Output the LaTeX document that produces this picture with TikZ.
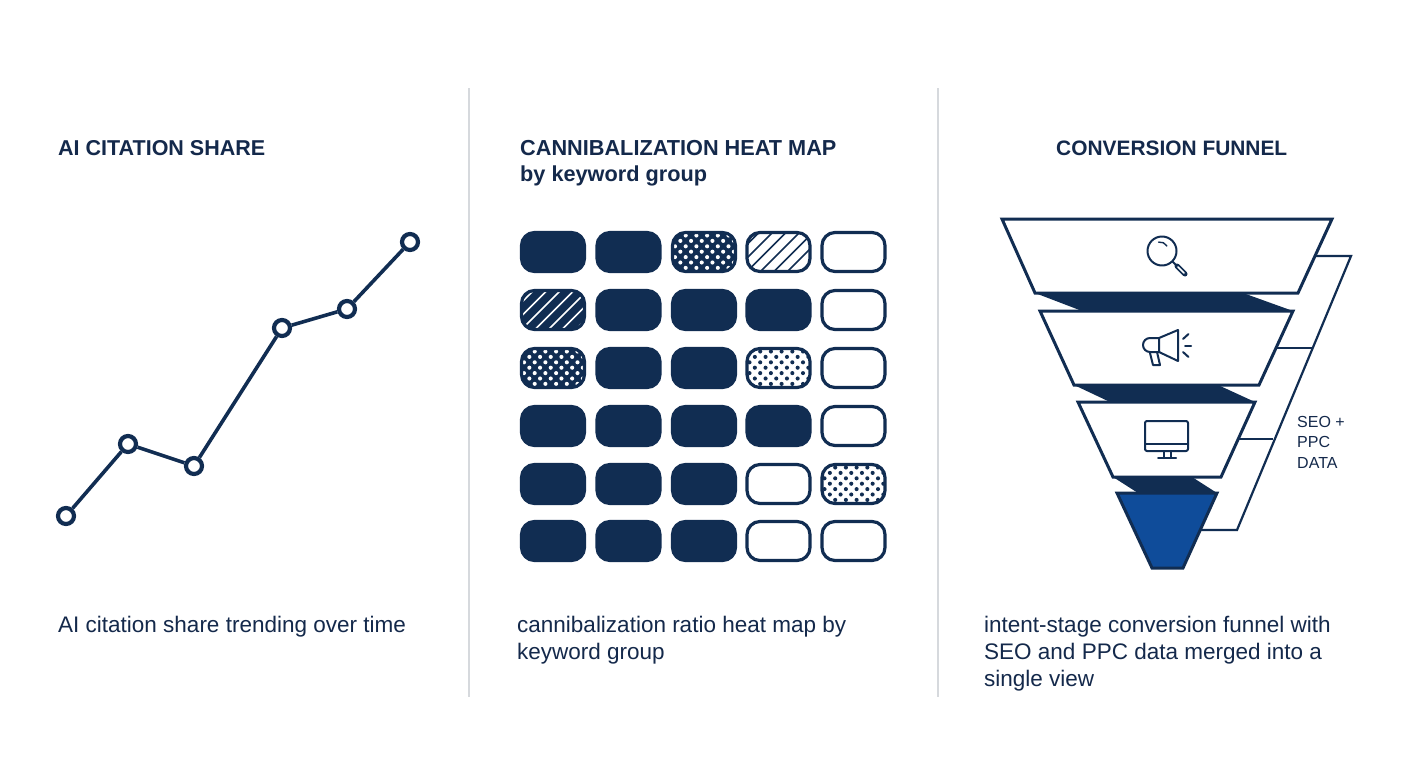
\documentclass[tikz,border=0pt]{standalone}
\usepackage{fontspec}
\setmainfont{Liberation Sans}
\usetikzlibrary{calc}
\definecolor{navy}{HTML}{112D52}
\definecolor{inkc}{HTML}{14294B}
\definecolor{funblue}{HTML}{0F4C9A}
\definecolor{divc}{HTML}{D6D9DD}
\newcommand{\dotfield}[1]{%
  \foreach \r in {0,...,8}{\foreach \q in {0,...,7}{%
    \pgfmathsetmacro{\xx}{\q*10.7+mod(\r,2)*5.35}
    \pgfmathsetmacro{\yy}{\r*5.4}
    \fill[#1] ($(path picture bounding box.north west)+(\xx pt,-\yy pt)+(2.5pt,-3pt)$) circle (2.05pt);
  }}}
\newcommand{\hatchfield}[1]{%
  \foreach \q in {-4,...,7}{%
    \draw[#1,line width=1.5pt] ($(path picture bounding box.south west)+(\q*13.5pt,0)$) -- ++(46pt,46pt);
  }}
\tikzset{
  x=1pt,y=-1pt,
  cellbase/.style={rounded corners=13pt,minimum width=63pt,minimum height=39pt,inner sep=0pt,draw=navy,line width=3.2pt,anchor=center},
  solid cell/.style={cellbase,fill=navy},
  empty cell/.style={cellbase,fill=white},
  darkdots/.style={cellbase,fill=navy,path picture={\dotfield{white}}},
  lightdots/.style={cellbase,fill=white,path picture={\dotfield{navy}}},
  darkhatch/.style={cellbase,fill=navy,path picture={\hatchfield{white}}},
  lighthatch/.style={cellbase,fill=white,path picture={\hatchfield{navy}}},
  marker/.style={circle,draw=navy,fill=white,line width=4.2pt,minimum size=16pt,inner sep=0pt},
  trend/.style={draw=navy,line width=3.6pt,line join=round},
  divider/.style={draw=divc,line width=1.4pt},
  heading/.style={font=\fontsize{#1}{26.5}\selectfont\bfseries,text=inkc,inner sep=0pt,anchor=north west,align=left},
  body/.style={font=\fontsize{22.5}{27}\selectfont,text=inkc,inner sep=0pt,anchor=north west,align=left},
  tag/.style={font=\fontsize{16}{20.5}\selectfont,text=inkc,inner sep=0pt,anchor=north west,align=left},
  layer/.style={draw=navy,fill=white,line width=3pt,line join=miter},
  band/.style={fill=navy},
  bracket/.style={draw=navy,line width=2.2pt,line join=miter},
  glyph/.style={draw=navy,line width=2pt,line cap=round,line join=round},
}
\begin{document}
\begin{tikzpicture}
\useasboundingbox (0,0) rectangle (1408,768);
\fill[white] (0,0) rectangle (1408,768);
% dividers
\coordinate (d1t) at (469,88); \coordinate (d1b) at (469,697);
\coordinate (d2t) at (938,88); \coordinate (d2b) at (938,697);
\draw[divider] (d1t) -- (d1b);
\draw[divider] (d2t) -- (d2b);
% headings
\node[heading=21.5] (h1) at (58,140) {AI CITATION SHARE};
\node[heading=21.7] (h2) at (520,140) {CANNIBALIZATION HEAT MAP\\by keyword group};
\node[heading=20.9] (h3) at (1056,141) {CONVERSION FUNNEL};
% captions
\node[body] (b1) at (58,615.5) {AI citation share trending over time};
\node[body] (b2) at (517,615.5) {cannibalization ratio heat map by\\keyword group};
\node[body] (b3) at (984,615.5) {intent-stage conversion funnel with\\SEO and PPC data merged into a\\single view};
% line chart
\node[marker] (p1) at (66,516) {};
\node[marker] (p2) at (128,444) {};
\node[marker] (p3) at (194,466) {};
\node[marker] (p4) at (282,328) {};
\node[marker] (p5) at (347,309) {};
\node[marker] (p6) at (410,242) {};
\draw[trend] (p1) -- (p2) -- (p3) -- (p4) -- (p5) -- (p6);
% heat map
\foreach \name/\col/\row/\sty in {
 a/553/252/solid cell,b/628.5/252/solid cell,c/704/252/darkdots,d/778.5/252/lighthatch,e/853.5/252/empty cell,
 f/553/310/darkhatch,g/628.5/310/solid cell,h/704/310/solid cell,i/778.5/310/solid cell,j/853.5/310/empty cell,
 k/553/368/darkdots,l/628.5/368/solid cell,m/704/368/solid cell,n/778.5/368/lightdots,o/853.5/368/empty cell,
 p/553/426/solid cell,q/628.5/426/solid cell,r/704/426/solid cell,s/778.5/426/solid cell,t/853.5/426/empty cell,
 u/553/484/solid cell,v/628.5/484/solid cell,w/704/484/solid cell,x/778.5/484/empty cell,y/853.5/484/lightdots,
 z/553/541/solid cell,aa/628.5/541/solid cell,ab/704/541/solid cell,ac/778.5/541/empty cell,ad/853.5/541/empty cell}
{\node[\sty] (cell-\name) at (\col,\row) {};}
% funnel bracket
\coordinate (br0) at (1316,256); \coordinate (br1) at (1351,256);
\coordinate (br2) at (1237,530); \coordinate (br3) at (1200,530);
\coordinate (tie1a) at (1277,348); \coordinate (tie1b) at (1312,348);
\coordinate (tie2a) at (1238,439); \coordinate (tie2b) at (1273,439);
\draw[bracket] (br0) -- (br1) -- (br2) -- (br3);
\draw[bracket] (tie1a) -- (tie1b);
\draw[bracket] (tie2a) -- (tie2b);
% funnel bands
\fill[band] (1035,293) -- (1243,293) -- (1293,311) -- (1082,311) -- cycle;
\fill[band] (1074,385) -- (1218,385) -- (1255,402) -- (1110,402) -- cycle;
\fill[band] (1113,477) -- (1192,477) -- (1217,493) -- (1138,493) -- cycle;
% funnel layers
\draw[layer] (1002,219) -- (1332,219) -- (1298,293) -- (1035,293) -- cycle;
\draw[layer] (1040,311) -- (1293,311) -- (1259,385) -- (1074,385) -- cycle;
\draw[layer] (1078,402) -- (1255,402) -- (1221,477) -- (1113,477) -- cycle;
\draw[layer,fill=funblue] (1117,493) -- (1217,493) -- (1183,568) -- (1152,568) -- cycle;
% magnifier
\draw[glyph] (1162,251) circle (14.5);
\draw[glyph,line width=1.4pt] ($(1160,250)+(-100:8)$) arc[start angle=-100,end angle=-30,radius=8];
\draw[glyph] (1172.5,261.5) -- (1176,265);
\draw[glyph,line width=5pt] (1177,266) -- (1185,274);
\draw[draw=white,line width=1.5pt,line cap=round] (1178,267) -- (1184,273);
% megaphone
\draw[glyph] (1159,338) -- (1178,330) -- (1178,361) -- (1159,352) -- cycle;
\draw[glyph] (1159,338) -- (1150,338) arc[start angle=-90,end angle=-270,radius=7] -- (1159,352);
\draw[glyph] (1150,353) -- (1153,365) -- (1160,365) -- (1157,352);
\draw[glyph] (1183,339) -- (1188.5,334);
\draw[glyph] (1185,345.5) -- (1191,345.5);
\draw[glyph] (1183,352) -- (1188.5,357);
% monitor
\draw[glyph,rounded corners=2pt] (1145,421) rectangle (1188,451);
\draw[glyph] (1145,444) -- (1188,444);
\draw[glyph] (1164,451) -- (1164,458);
\draw[glyph] (1171,451) -- (1171,458);
\draw[glyph] (1158,458) -- (1176,458);
% tag
\node[tag] (tag) at (1297,416) {SEO +\\PPC\\DATA};
\end{tikzpicture}
\end{document}
